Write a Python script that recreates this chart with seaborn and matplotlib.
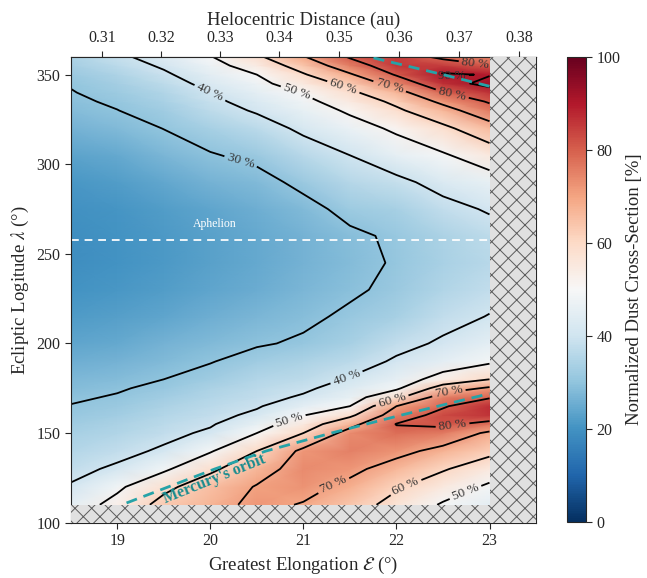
import numpy as np
import matplotlib
matplotlib.use("Agg")
import matplotlib.pyplot as plt
from matplotlib.patches import Rectangle
import seaborn as sns

elongation = [18.5, 19.0, 19.5, 20.0, 20.5, 21.0, 21.5, 22.0, 22.5, 23.0]
longitude = [110, 120, 130, 140, 150, 155, 160, 165, 170, 175, 180, 190, 200, 215,
             230, 245, 260, 275, 290, 305, 320, 330, 335, 340, 345, 350, 355, 360]

# normalized dust cross-section [%], one list per elongation column (bottom -> top)
col_185 = [45, 40.7, 37.8, 35.5, 33.3, 32.3, 31.2, 30.2, 29.3, 28.5, 27.6, 25.6, 23.8, 21.6,
           20.0, 19.1, 19.0, 19.6, 21.0, 23.3, 26.3, 28.3, 29.0, 29.7, 30.4, 31.6, 33.0, 34.5]
col_190 = [53, 48.3, 41.3, 37.6, 35.0, 34.0, 32.8, 31.6, 30.4, 29.5, 28.4, 26.5, 24.6, 22.4,
           20.8, 20.0, 20.0, 20.6, 22.2, 24.6, 27.8, 29.9, 30.8, 32.0, 33.2, 34.6, 36.4, 38.5]
col_195 = [63, 57.8, 48.4, 41.2, 37.8, 36.5, 35.2, 34.0, 32.5, 31.2, 30.0, 28.0, 26.2, 23.8,
           22.2, 21.3, 21.3, 22.0, 24.0, 27.3, 30.1, 32.4, 33.7, 35.1, 36.8, 38.8, 41.0, 43.4]
col_200 = [67, 65, 58.2, 49.2, 41.3, 39.2, 37.8, 36.6, 35.2, 34.0, 32.2, 29.7, 27.8, 25.5,
           23.8, 22.9, 22.9, 23.8, 26.2, 29.5, 33.5, 36.8, 38.4, 39.9, 42.2, 44.6, 47.1, 49.6]
col_205 = [72, 70.5, 66.5, 60, 50, 46, 41.5, 39.3, 37.8, 36.5, 35.2, 32.3, 29.4, 27.0,
           25.2, 24.4, 24.4, 25.4, 27.8, 31.6, 36.5, 40.8, 42.8, 45.0, 47.5, 50.0, 54.0, 58.5]
col_210 = [69.5, 72.5, 73.5, 72.0, 60, 55, 49.6, 45, 40.8, 38.8, 37, 34, 30.8, 28.8,
           27.0, 26.3, 26.5, 28.0, 31.6, 36, 41.5, 45.8, 47.8, 50.5, 55, 59.2, 64, 69.5]
col_215 = [64, 68, 72, 75, 73.5, 67, 58, 50, 46, 43, 40.6, 36.5, 33.5, 31,
           29.1, 28.4, 28.9, 31.8, 35.8, 40, 46.7, 51.2, 54.3, 58.4, 62.5, 69, 75.5, 81]
col_220 = [57, 61, 66.5, 72.5, 78, 80.3, 75, 70, 57.5, 48.5, 45.5, 41, 37.8, 33.3,
           31.3, 30.5, 30.9, 33.5, 38.0, 45.5, 51.3, 58.5, 62, 66.5, 74, 80.8, 85.5, 84.5]
col_225 = [49, 55, 60.8, 67.5, 76, 82, 83, 79, 75, 64.5, 53.5, 45, 41, 37.6,
           35, 33.8, 34.2, 37.5, 42.8, 49, 58, 66.5, 72, 79.5, 86.5, 91, 85, 78]
col_230 = [45, 48.5, 55, 62.3, 68.5, 77, 86, 87, 79, 71.5, 60, 48.5, 45, 40.3,
           37.5, 36, 36.8, 40.8, 46, 55, 66, 76, 81, 86, 92.5, 89.5, 80.5, 74]

contour_levels = [30, 40, 50, 60, 70, 80, 90]
distance_ticks = [0.31, 0.32, 0.33, 0.34, 0.35, 0.36, 0.37, 0.38]

# Mercury's orbit as seen in the chart (two branches)
orbit_low_lon = [111, 120, 130, 140, 150, 160, 172]
orbit_low_elo = [19.1, 19.55, 20.05, 20.6, 21.3, 22.05, 23.0]
orbit_high_lon = [343.5, 350, 355, 360]
orbit_high_elo = [23.0, 22.5, 22.1, 21.7]
aphelion_lon = 257.46

# contour label anchors (elongation, longitude)
label_spots = [(20.32, 300.5), (20.0, 340.4), (20.93, 340.3), (21.43, 343.2), (21.93, 344),
               (22.6, 339.5), (22.6, 346.5), (22.85, 356),
               (21.47, 180), (20.85, 157), (21.95, 169), (22.56, 173.7), (22.6, 155.2),
               (21.29, 125.6), (22.08, 122.8), (22.72, 120)]

sns.set_style("ticks")
plt.rcParams['font.family'] = ['Liberation Serif', 'DejaVu Serif']
plt.rcParams['mathtext.fontset'] = 'stix'
plt.rcParams['hatch.linewidth'] = 0.7

values = np.column_stack([col_185, col_190, col_195, col_200, col_205,
                          col_210, col_215, col_220, col_225, col_230])
E, L = np.meshgrid(elongation, longitude)
cmap = sns.color_palette("RdBu_r", as_cmap=True)

fig = plt.figure(figsize=(6.47, 5.78), dpi=100)
ax = fig.add_axes([0.1093, 0.0957, 0.7192, 0.8062])
cax = fig.add_axes([0.8764, 0.0975, 0.0294, 0.8045])

mesh = ax.pcolormesh(E, L, values, cmap=cmap, vmin=0, vmax=100, shading='gouraud')
cs = ax.contour(E, L, values, levels=contour_levels, colors='black', linewidths=1.3)
ax.clabel(cs, manual=label_spots, inline=True, fmt='%d %%', fontsize=9.5, colors='#333333')

# excluded regions
ax.add_patch(Rectangle((23.0, 100), 0.5, 260, facecolor='#e0e0e0', edgecolor='#5a5a5a',
                       hatch='xx', linewidth=0, zorder=3))
ax.add_patch(Rectangle((18.5, 100), 4.5, 10, facecolor='#e0e0e0', edgecolor='#5a5a5a',
                       hatch='xx', linewidth=0, zorder=3))

# aphelion and Mercury's orbit
ax.axhline(aphelion_lon, xmin=0, xmax=0.9, color='white', lw=1.4, dashes=(4, 3), alpha=0.9)
ax.text(20.05, 263.5, 'Aphelion', color='white', fontsize=8.5, ha='center', va='bottom')
ax.plot(orbit_low_elo, orbit_low_lon, color='#26a3a8', lw=2, dashes=(4, 2.5), zorder=4)
ax.plot(orbit_high_elo, orbit_high_lon, color='#26a3a8', lw=2, dashes=(4, 2.5), zorder=4)
ax.text(20.05, 124.5, "Mercury's orbit", color='#1a8c8f', fontsize=11.5, fontweight='bold',
        rotation=22, ha='center', va='center', zorder=5)

ax.set_xlim(18.5, 23.5)
ax.set_ylim(100, 360)
ax.set_xticks([19, 20, 21, 22, 23])
ax.set_yticks([100, 150, 200, 250, 300, 350])
ax.set_xlabel(r'Greatest Elongation $\mathcal{E}$ (°)', fontsize=13.5)
ax.set_ylabel(r'Ecliptic Logitude $\lambda$ (°)', fontsize=13.5)
ax.tick_params(labelsize=11.5, length=4)

top = ax.secondary_xaxis('top', functions=(lambda e: 0.96 * np.sin(np.radians(e)),
                                           lambda r: np.degrees(np.arcsin(np.clip(r / 0.96, -1, 1)))))
top.set_xticks(distance_ticks)
top.set_xticklabels([f'{d:.2f}' for d in distance_ticks])
top.set_xlabel('Helocentric Distance (au)', fontsize=13.5)
top.tick_params(labelsize=11.5, length=4)

cb = fig.colorbar(mesh, cax=cax, ticks=[0, 20, 40, 60, 80, 100])
cb.set_label('Normalized Dust Cross-Section [%]', fontsize=13.5)
cb.ax.tick_params(labelsize=11.5, length=4)

fig.savefig('out.png', dpi=100)
